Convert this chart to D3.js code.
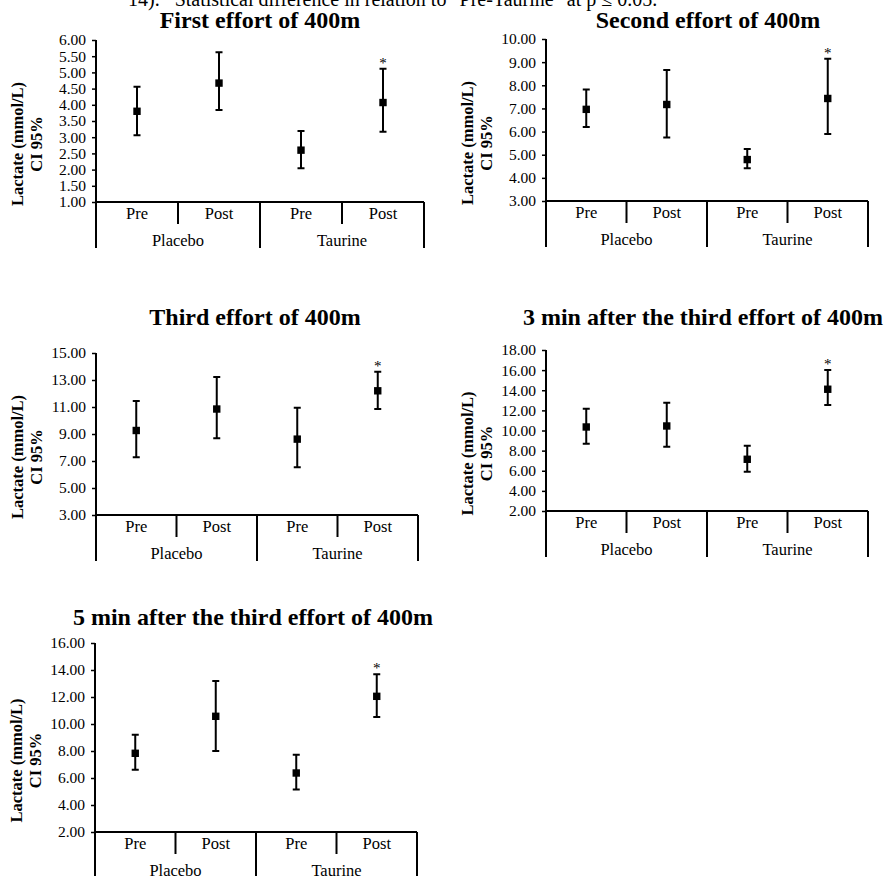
<!DOCTYPE html>
<html lang="en">
<head>
    <meta charset="UTF-8">
    <title>Lactate CI 95% - 400m efforts</title>
    <script type="text/javascript" src="https://d3js.org/d3.v7.min.js"></script>
    <style>
        body { margin: 0; background: #fff; }
        text { font-family: "Liberation Serif", "Times New Roman", serif; fill: #000; }
    </style>
</head>
<body>

    <svg id="svg" width=888 height=876></svg>

    <script>
        // data
        const caption = '14).   *Statistical difference in relation to "Pre-Taurine" at p \u2264 0.05.';
        const categories = ["Pre", "Post", "Pre", "Post"];
        const groups = ["Placebo", "Taurine"];
        const panelTitles = [
            "First effort of 400m",
            "Second effort of 400m",
            "Third effort of 400m",
            "3 min after the third effort of 400m",
            "5 min after the third effort of 400m"
        ];
        const means = [
            [3.80, 4.67, 2.60, 4.07],
            [6.96, 7.17, 4.79, 7.43],
            [9.26, 10.85, 8.62, 12.20],
            [10.35, 10.45, 7.14, 14.10],
            [7.83, 10.57, 6.37, 12.05]
        ];
        const upper = [
            [4.56, 5.62, 3.19, 5.11],
            [7.82, 8.66, 5.25, 9.15],
            [11.45, 13.22, 10.95, 13.62],
            [12.17, 12.77, 8.49, 16.02],
            [9.21, 13.19, 7.73, 13.68]
        ];
        const lower = [
            [3.06, 3.84, 2.04, 3.17],
            [6.20, 5.74, 4.42, 5.89],
            [7.28, 8.69, 6.54, 10.85],
            [8.69, 8.39, 5.91, 12.54],
            [6.62, 8.00, 5.14, 10.52]
        ];
        const yDomains = [[1, 6], [3, 10], [3, 15], [2, 18], [2, 16]];
        const yTickSteps = [0.5, 1, 2, 2, 2];
        const significant = [false, false, false, true];
        const yLabel = ["Lactate (mmol/L)", "CI 95%"];

        // where each panel sits on the page
        const layout = [
            { x0: 96,  x1: 424, top: 40,  bottom: 202, titleX: 260, titleY: 28 },
            { x0: 546, x1: 868, top: 39,  bottom: 201, titleX: 708, titleY: 28 },
            { x0: 96,  x1: 418, top: 353, bottom: 515, titleX: 255, titleY: 325 },
            { x0: 546, x1: 868, top: 350, bottom: 511, titleX: 703, titleY: 325 },
            { x0: 95,  x1: 417, top: 643, bottom: 832, titleX: 253, titleY: 625 }
        ];

        let svg = d3.select('svg');

        svg.append('text')
            .attr('x', 128)
            .attr('y', 6)
            .style('font-size', '20px')
            .text(caption);

        panelTitles.forEach((title, i) => drawPanel(i, title));

        function drawPanel(i, title) {
            const L = layout[i];
            const g = svg.append('g');

            const x = d3.scaleBand()
                .domain(d3.range(categories.length))
                .range([L.x0, L.x1]);
            const y = d3.scaleLinear()
                .domain(yDomains[i])
                .range([L.bottom, L.top]);

            const ticks = d3.range(yDomains[i][0], yDomains[i][1] + 1e-9, yTickSteps[i]);

            // title
            g.append('text')
                .attr('x', L.titleX)
                .attr('y', L.titleY)
                .attr('text-anchor', 'middle')
                .style('font-size', '24px')
                .style('font-weight', 'bold')
                .text(title);

            // y axis
            const yAxis = g.append('g')
                .attr('transform', `translate(${L.x0},0)`)
                .call(d3.axisLeft(y).tickValues(ticks).tickSize(4).tickPadding(6)
                    .tickFormat(d3.format('.2f')));
            yAxis.attr('font-family', '"Liberation Serif", serif').attr('font-size', 15.5);
            yAxis.select('.domain').attr('stroke', '#000').attr('stroke-width', 2)
                .attr('d', `M0,${L.top}V${L.bottom}`);
            yAxis.selectAll('.tick line').attr('stroke', '#000').attr('stroke-width', 1.5);
            yAxis.selectAll('.tick text').attr('fill', '#000');

            // y label
            const labelCY = (L.top + L.bottom + 46) / 2;
            yLabel.forEach((t, k) => {
                g.append('text')
                    .attr('transform', `translate(${L.x0 - 73 + k * 19},${labelCY}) rotate(-90)`)
                    .attr('text-anchor', 'middle')
                    .style('font-size', '16.5px')
                    .style('font-weight', 'bold')
                    .text(t);
            });

            // category axis
            const axisLine = d3.line();
            g.append('path')
                .attr('d', axisLine([[L.x0 - 1, L.bottom], [L.x1, L.bottom]]))
                .attr('stroke', '#000').attr('stroke-width', 2).attr('fill', 'none');

            const edges = d3.range(categories.length + 1).map(k =>
                k < categories.length ? x(k) : x(k - 1) + x.bandwidth());
            edges.forEach((ex, k) => {
                const isGroupEdge = k % 2 === 0;
                g.append('line')
                    .attr('x1', ex).attr('x2', ex)
                    .attr('y1', L.bottom)
                    .attr('y2', L.bottom + (isGroupEdge ? 46 : 22))
                    .attr('stroke', '#000').attr('stroke-width', 2);
            });

            g.selectAll('.cat')
                .data(categories)
                .enter()
                .append('text')
                .attr('x', (d, k) => x(k) + x.bandwidth() / 2)
                .attr('y', L.bottom + 17)
                .attr('text-anchor', 'middle')
                .style('font-size', '16.5px')
                .text(d => d);

            g.selectAll('.grp')
                .data(groups)
                .enter()
                .append('text')
                .attr('x', (d, k) => x(k * 2) + x.bandwidth())
                .attr('y', L.bottom + 44)
                .attr('text-anchor', 'middle')
                .style('font-size', '16.5px')
                .text(d => d);

            // error bars
            const pts = means[i].map((m, k) => ({ k: k, m: m, hi: upper[i][k], lo: lower[i][k] }));
            const cx = d => x(d.k) + x.bandwidth() / 2;
            const capW = 3.5;

            g.selectAll('.bar')
                .data(pts)
                .enter()
                .append('path')
                .attr('d', d => `M${cx(d)},${y(d.hi)}V${y(d.lo)}` +
                    `M${cx(d) - capW},${y(d.hi)}H${cx(d) + capW}` +
                    `M${cx(d) - capW},${y(d.lo)}H${cx(d) + capW}`)
                .attr('stroke', '#000').attr('stroke-width', 2).attr('fill', 'none');

            g.selectAll('.pt')
                .data(pts)
                .enter()
                .append('rect')
                .attr('x', d => cx(d) - 3.7)
                .attr('y', d => y(d.m) - 3.7)
                .attr('width', 7.4)
                .attr('height', 7.4)
                .attr('fill', '#000');

            g.selectAll('.star')
                .data(pts.filter(d => significant[d.k]))
                .enter()
                .append('text')
                .attr('x', d => cx(d))
                .attr('y', d => y(d.hi) - 1)
                .attr('text-anchor', 'middle')
                .style('font-size', '15px')
                .style('fill', '#000')
                .text('*');
        }
    </script>

</body>
</html>
